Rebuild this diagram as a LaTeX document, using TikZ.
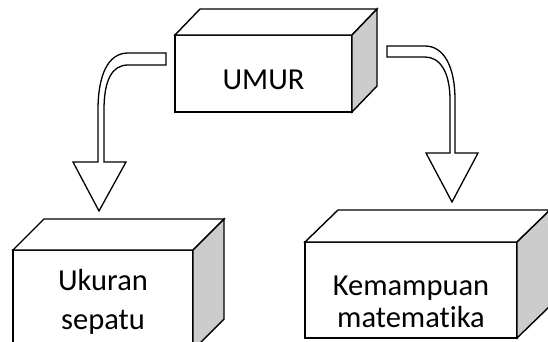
\documentclass[tikz,border=0pt]{standalone}
\usepackage{fontspec}
\setmainfont[Ligatures=NoCommon]{Carlito}
\definecolor{sidegray}{HTML}{CCCCCC}
\begin{document}
\begin{tikzpicture}[x=1pt,y=-1pt,
  face/.style={draw=black,line width=1.4pt,fill=white,line join=miter,inner sep=0pt,outer sep=0pt},
  sideface/.style={draw=black,line width=1.4pt,fill=sidegray,line join=miter},
  topface/.style={draw=black,line width=1.4pt,fill=white,line join=miter},
  lbl/.style={font=\fontsize{30.5}{34}\selectfont,anchor=base,inner sep=0pt},
  bigarrow/.style={draw=black,line width=1.3pt,fill=white,line join=miter}]
\useasboundingbox (0,0) rectangle (548,341);
\clip (0,0) rectangle (548,341);

% ---------- UMUR box ----------
\node[face,minimum width=177pt,minimum height=77pt] (umur) at (263.5,73.5) {};
\draw[topface] (umur.north west) -- ++(25,-26) -- ++(177,0) -- (umur.north east) -- cycle;
\draw[sideface] (umur.north east) -- ++(25,-26) -- ++(0,77) -- (umur.south east) -- cycle;
\node[lbl] (umurtxt) at (263.5,89) {UMUR};

% ---------- Ukuran sepatu box ----------
\node[face,minimum width=180pt,minimum height=100pt] (ukuran) at (103,300) {};
\draw[topface] (ukuran.north west) -- ++(31,-31) -- ++(180,0) -- (ukuran.north east) -- cycle;
\draw[sideface] (ukuran.north east) -- ++(31,-31) -- ++(0,100) -- (ukuran.south east) -- cycle;
\node[lbl] (uk1) at (103,290) {Ukuran};
\node[lbl] (uk2) at (103,329) {sepatu};

% ---------- Kemampuan matematika box ----------
\node[face,minimum width=212pt,minimum height=96pt] (kem) at (411,290) {};
\draw[topface] (kem.north west) -- ++(33,-32) -- ++(212,0) -- (kem.north east) -- cycle;
\draw[sideface] (kem.north east) -- ++(33,-32) -- ++(0,96) -- (kem.south east) -- cycle;
\node[lbl] (km1) at (411,295) {Kemampuan};
\node[lbl] (km2) at (411,327) {matemat\kern0pt ika};

% ---------- left curved block arrow ----------
\draw[bigarrow] (166,53) -- (128,53)
  .. controls (108,53) and (98,75) .. (98,110) -- (98,162) -- (73,162)
  -- (99,211) -- (126,162) -- (104,162) -- (104,110)
  .. controls (104,80) and (112,65) .. (128,65) -- (166,65) -- cycle;

% ---------- right curved block arrow ----------
\draw[bigarrow] (387,46) -- (425,46)
  .. controls (443,46) and (455,65) .. (455,100) -- (455,153) -- (478,153)
  -- (452,202) -- (426,153) -- (450,153) -- (450,100)
  .. controls (450,72) and (440,57) .. (425,57) -- (387,57) -- cycle;
\end{tikzpicture}
\end{document}
